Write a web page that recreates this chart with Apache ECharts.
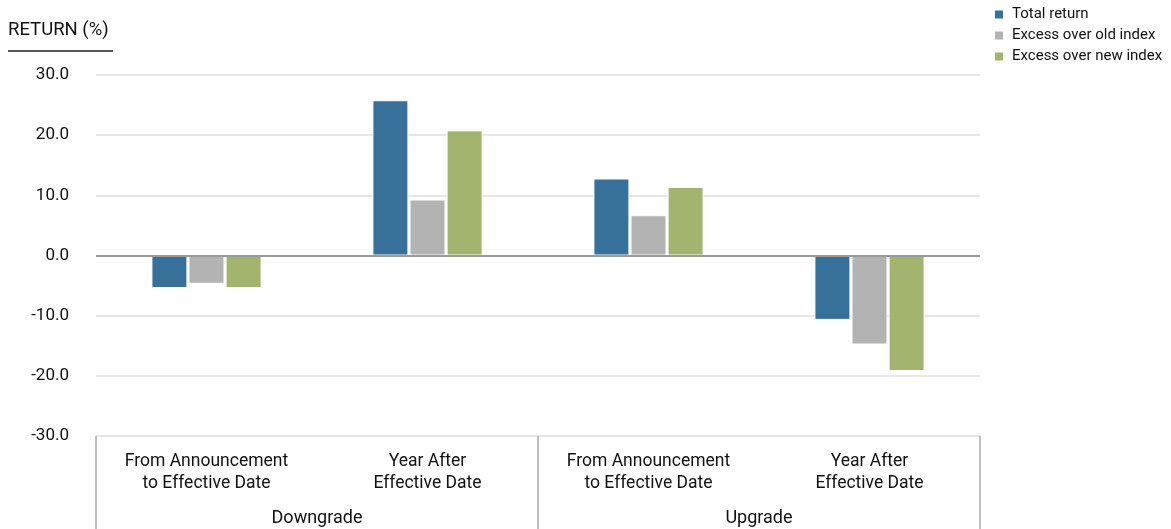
<!DOCTYPE html>
<html>
<head>
<meta charset="utf-8">
<script src="https://cdn.jsdelivr.net/npm/echarts@6/dist/echarts.min.js"></script>
<style>
  html, body { margin: 0; padding: 0; background: #fff; }
  #chart { width: 1171px; height: 529px; }
</style>
</head>
<body>
<div id="chart"></div>
<script>
// Periods within each rating-change group
const periods = [
  'From Announcement\nto Effective Date',
  'Year After\nEffective Date',
  'From Announcement\nto Effective Date',
  'Year After\nEffective Date'
];
const groups = ['Downgrade', 'Upgrade'];

// Returns in percent
const totalReturn = [-5.4, 25.8, 12.8, -10.7];
const excessOldIndex = [-4.7, 9.3, 6.7, -14.8];
const excessNewIndex = [-5.4, 20.8, 11.4, -19.2];

const seriesNames = ['Total return', 'Excess over old index', 'Excess over new index'];
const yTicks = { min: -30, max: 30, step: 10 };

const FONT = "Roboto, 'Liberation Sans', sans-serif";
const TEXT = '#111';
const COLORS = ['#37719a', '#b3b3b3', '#a2b46e'];

const chart = echarts.init(document.getElementById('chart'), null, { renderer: 'canvas' });

function barSeries(name, data, idx) {
  const s = {
    name: name,
    type: 'bar',
    xAxisIndex: 0,
    data: data,
    barWidth: 36,
    barGap: '3%',
    itemStyle: { color: COLORS[idx], borderColor: '#fff', borderWidth: 1 }
  };
  if (idx === 2) {
    s.markLine = {
      silent: true,
      symbol: ['none', 'none'],
      label: { show: false },
      lineStyle: { color: '#9a9a9a', width: 2, type: 'solid' },
      data: [{ yAxis: 0 }]
    };
  }
  return s;
}

chart.setOption({
  animation: false,
  textStyle: { fontFamily: FONT },
  color: COLORS,
  grid: { left: 96, right: 191, top: 75, bottom: 93, containLabel: false },
  legend: {
    orient: 'vertical',
    left: 993,
    top: 7,
    padding: 0,
    itemWidth: 10,
    itemHeight: 10,
    itemGap: 6,
    icon: 'rect',
    textStyle: { fontFamily: FONT, fontSize: 15, color: TEXT, padding: [0, 0, 0, 3] },
    data: seriesNames
  },
  graphic: [
    {
      type: 'text', left: 8, top: 21,
      style: { text: 'RETURN (%)', font: '18.5px ' + FONT, fill: TEXT }
    },
    {
      type: 'line',
      shape: { x1: 8, y1: 51, x2: 113, y2: 51 },
      style: { stroke: '#222', lineWidth: 1.5 }
    }
  ],
  xAxis: [
    {
      type: 'category',
      data: periods,
      position: 'bottom',
      axisLine: { show: false },
      axisTick: { show: false },
      axisLabel: {
        margin: 15,
        fontFamily: FONT,
        fontSize: 17.5,
        lineHeight: 22,
        color: TEXT,
        interval: 0
      }
    },
    {
      type: 'category',
      data: groups,
      position: 'bottom',
      axisLine: { show: false },
      axisTick: { show: true, length: 93, lineStyle: { color: '#aaa', width: 1.5 } },
      axisLabel: {
        margin: 73,
        fontFamily: FONT,
        fontSize: 18,
        color: TEXT
      }
    }
  ],
  yAxis: {
    type: 'value',
    min: yTicks.min,
    max: yTicks.max,
    interval: yTicks.step,
    axisLine: { show: false },
    axisTick: { show: false },
    axisLabel: {
      margin: 27,
      fontFamily: FONT,
      fontSize: 17,
      color: TEXT,
      formatter: v => v.toFixed(1)
    },
    splitLine: { lineStyle: { color: '#dedede', width: 1.5 } }
  },
  series: [
    barSeries(seriesNames[0], totalReturn, 0),
    barSeries(seriesNames[1], excessOldIndex, 1),
    barSeries(seriesNames[2], excessNewIndex, 2)
  ]
});
</script>
</body>
</html>
